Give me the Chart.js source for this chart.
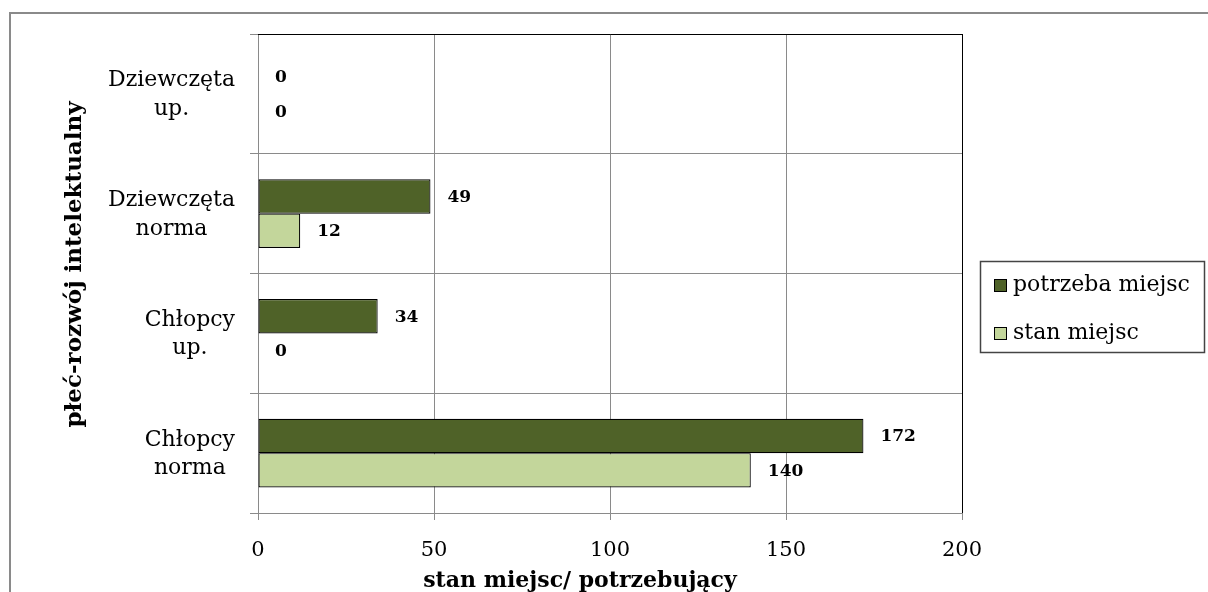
<!DOCTYPE html>
<html><head><meta charset="utf-8">
<script src="https://cdn.jsdelivr.net/npm/chart.js@4"></script>
<style>
html,body{margin:0;padding:0;background:#fff;overflow:hidden}
#wrap{position:relative;width:1208px;height:592px}
#frame{position:absolute;left:9px;top:12px;width:1300px;height:700px;border-left:2px solid #8a8a8a;border-top:2px solid #8a8a8a;pointer-events:none}
</style></head><body>
<div id="wrap"><canvas id="c" width="1208" height="592"></canvas><div id="frame"></div></div>
<script>
const categories = [['Dziewczęta','up.'],['Dziewczęta','norma'],['Chłopcy','up.'],['Chłopcy','norma']];
const seriesNames = ['potrzeba miejsc','stan miejsc'];
const potrzebaMiejsc = [0,49,34,172];
const stanMiejsc = [0,12,0,140];
const xMin = 0, xMax = 200, xStep = 50;
const xTitle = 'stan miejsc/ potrzebujący';
const yTitle = 'płeć-rozwój intelektualny';
const colors = ['#4F6228','#C3D69B'];

const FONT = '"DejaVu Serif", serif';
const GRID = '#8a8a8a';

const drawExtras = {
  id:'extras',
  afterDraw(chart){
    const ctx = chart.ctx, ca = chart.chartArea, ys = chart.scales.y;
    ctx.save();
    // plot border top/right
    ctx.strokeStyle = '#000'; ctx.lineWidth = 1;
    ctx.beginPath();
    ctx.moveTo(ca.left, ca.top + 0.5); ctx.lineTo(ca.right + 0.5, ca.top + 0.5);
    ctx.moveTo(ca.right + 0.5, ca.top); ctx.lineTo(ca.right + 0.5, ca.bottom);
    ctx.stroke();
    // category labels
    ctx.fillStyle = '#000';
    ctx.font = '22px ' + FONT;
    ctx.textAlign = 'center'; ctx.textBaseline = 'middle';
    categories.forEach((lines, i) => {
      const y = ys.getPixelForTick(i);
      const w = Math.max(...lines.map(l => ctx.measureText(l).width));
      const cx = ys.right - 23 - w/2;
      const lh = 28.5;
      lines.forEach((l, j) => ctx.fillText(l, cx, y + 1 + (j - (lines.length-1)/2)*lh));
    });
    // data labels
    ctx.font = 'bold 17px ' + FONT;
    ctx.textAlign = 'left';
    chart.data.datasets.forEach((ds, di) => {
      chart.getDatasetMeta(di).data.forEach((el, i) => {
        ctx.fillText(String(ds.data[i]), el.x + 17, el.y + 1);
      });
    });
    // axis titles
    ctx.font = 'bold 22px ' + FONT;
    ctx.textAlign = 'center';
    ctx.fillText(xTitle, (ca.left + ca.right)/2 - 30, 581);
    ctx.save();
    ctx.translate(75, (ca.top + ca.bottom)/2 - 9);
    ctx.rotate(-Math.PI/2);
    ctx.font = 'bold 23px ' + FONT;
    ctx.fillText(yTitle, 0, 0);
    ctx.restore();
    // legend
    const lx = 980, ly = 261, lw = 224, lh2 = 91;
    ctx.strokeStyle = '#444'; ctx.lineWidth = 1.5;
    ctx.strokeRect(lx + 0.5, ly + 0.5, lw, lh2);
    ctx.font = '22px ' + FONT;
    ctx.textAlign = 'left';
    seriesNames.forEach((n, i) => {
      const cy = ly + 24 + i*48;
      ctx.fillStyle = colors[i];
      ctx.fillRect(994, cy - 6, 13, 13);
      ctx.strokeStyle = '#000'; ctx.lineWidth = 1;
      ctx.strokeRect(994.5, cy - 5.5, 12, 12);
      ctx.fillStyle = '#000';
      ctx.fillText(n, 1013, cy);
    });
    ctx.restore();
  }
};

new Chart(document.getElementById('c'), {
  type: 'bar',
  data: {
    labels: categories.map(c => c.join(' ')),
    datasets: [
      {label: seriesNames[0], data: potrzebaMiejsc, backgroundColor: colors[0], borderColor:'#000',
       borderWidth: c => c.raw === 0 ? 0 : 1.2, borderSkipped:false, categoryPercentage:0.575, barPercentage:1},
      {label: seriesNames[1], data: stanMiejsc, backgroundColor: colors[1], borderColor:'#000',
       borderWidth: c => c.raw === 0 ? 0 : 1.2, borderSkipped:false, categoryPercentage:0.575, barPercentage:1}
    ]
  },
  options: {
    indexAxis: 'y',
    responsive: false, animation: false, devicePixelRatio: 1,
    layout: {padding: {top: 34, right: 246, left: 0, bottom: 0}},
    plugins: {legend: {display: false}, tooltip: {enabled: false}},
    scales: {
      x: {
        min: xMin, max: xMax,
        ticks: {stepSize: xStep, color: '#000', font: {family: FONT, size: 21}, padding: 18},
        grid: {color: GRID, tickLength: 7, drawTicks: true},
        border: {color: GRID},
        afterFit: s => { s.height = 79; }
      },
      y: {
        ticks: {display: false},
        grid: {color: GRID, tickLength: 8, offset: true},
        border: {color: GRID},
        afterFit: s => { s.width = 258; }
      }
    }
  },
  plugins: [drawExtras]
});
</script>
</body></html>
